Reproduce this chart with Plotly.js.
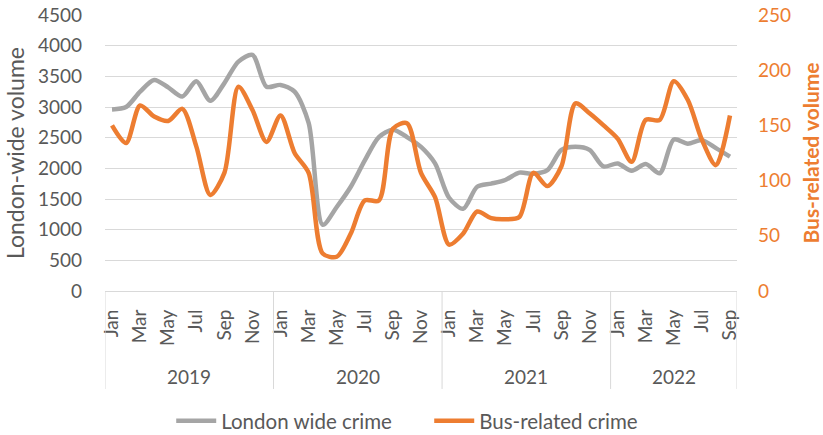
<!DOCTYPE html>
<html>
<head>
<meta charset="utf-8">
<script src="https://cdn.plot.ly/plotly-3.0.1.min.js"></script>
<style>html,body{margin:0;padding:0;background:#fff;}#chart{width:823px;height:435px;}</style>
</head>
<body>
<div id="chart"></div>
<script>
var years = ['2019', '2020', '2021', '2022'];
var monthNames = ['Jan','Feb','Mar','Apr','May','Jun','Jul','Aug','Sep','Oct','Nov','Dec'];
var monthsPerYear = [12, 12, 12, 9];
var londonWide = [
  2960, 3000, 3250, 3440, 3320, 3170, 3420, 3100, 3390, 3740, 3850, 3330,
  3360, 3250, 2740, 1080, 1370, 1700, 2130, 2510, 2630, 2510, 2350, 2080,
  1520, 1340, 1700, 1750, 1810, 1930, 1910, 1970, 2300, 2350, 2300, 2030,
  2080, 1960, 2070, 1920, 2470, 2400, 2460, 2330, 2190
];
var busRelated = [
  150, 134, 168, 158, 154, 165, 131, 87, 107, 185, 164, 135,
  159, 125, 107, 34, 31, 52, 82, 82, 147, 152, 107, 85,
  42, 52, 72, 66, 65, 67, 107, 95, 113, 170, 161, 150,
  138, 117, 155, 155, 190, 173, 137, 114, 159
];

var FONT = 'Lato, "Liberation Sans", sans-serif';
var GREY_TXT = '#595959';
var ORANGE = '#ED7D31';
var GREY_LINE = '#A5A5A5';

var xIdx = [], tickVals = [], tickText = [];
var yearStarts = [];
var k = 0;
for (var yi = 0; yi < years.length; yi++) {
  yearStarts.push(k);
  for (var m = 0; m < monthsPerYear[yi]; m++) {
    xIdx.push(k);
    if (m % 2 === 0) { tickVals.push(k); tickText.push(monthNames[m]); }
    k++;
  }
}
var total = k;

var annotations = [], shapes = [];
var sepBottom = -0.355, yearY = -0.308;
for (var yi = 0; yi < years.length; yi++) {
  var s = yearStarts[yi], e = s + monthsPerYear[yi];
  annotations.push({
    x: (s + e - 1) / 2, y: yearY, xref: 'x', yref: 'paper',
    text: years[yi], showarrow: false, yanchor: 'middle',
    font: {family: FONT, size: 19, color: GREY_TXT}
  });
  shapes.push({type: 'line', xref: 'x', yref: 'paper', x0: s - 0.5, x1: s - 0.5, y0: 0, y1: sepBottom,
    line: {color: '#d9d9d9', width: 1}});
}
shapes.push({type: 'line', xref: 'x', yref: 'paper', x0: total - 0.5, x1: total - 0.5, y0: 0, y1: sepBottom,
  line: {color: '#d9d9d9', width: 1}});

var traces = [
  {x: xIdx, y: londonWide, name: 'London wide crime', type: 'scatter', mode: 'lines',
   line: {color: GREY_LINE, width: 4.5, shape: 'spline', smoothing: 0.8}, yaxis: 'y'},
  {x: xIdx, y: busRelated, name: 'Bus-related crime', type: 'scatter', mode: 'lines',
   line: {color: ORANGE, width: 4.5, shape: 'spline', smoothing: 0.8}, yaxis: 'y2'}
];

var layout = {
  width: 823, height: 435,
  margin: {l: 105, r: 86, t: 15, b: 144},
  paper_bgcolor: '#fff', plot_bgcolor: '#fff',
  font: {family: FONT, color: GREY_TXT},
  showlegend: true,
  legend: {orientation: 'h', x: 0.513, xanchor: 'center', yref: 'container', y: 14 / 435, yanchor: 'middle',
    font: {family: FONT, size: 20.5, color: GREY_TXT}, itemwidth: 40, entrywidth: 203, entrywidthmode: 'pixels'},
  xaxis: {
    range: [-0.5, total - 0.5], tickmode: 'array', tickvals: tickVals, ticktext: tickText,
    tickangle: -90, tickfont: {family: FONT, size: 19, color: GREY_TXT},
    showgrid: false, zeroline: false, showline: true, linecolor: '#d9d9d9', linewidth: 1,
    ticks: '', ticklabelstandoff: 10, automargin: false, fixedrange: true
  },
  yaxis: {
    range: [0, 4500], dtick: 500, tickfont: {family: FONT, size: 19, color: GREY_TXT},
    gridcolor: '#d9d9d9', gridwidth: 1, zeroline: false, showline: false, ticks: '',
    ticklabelstandoff: 22, automargin: false,
    title: {text: 'London-wide volume', font: {family: FONT, size: 23, color: GREY_TXT}, standoff: 6}
  },
  yaxis2: {
    range: [0, 250], dtick: 50, overlaying: 'y', side: 'right',
    tickfont: {family: FONT, size: 19, color: ORANGE},
    showgrid: false, zeroline: false, showline: false, ticks: '',
    ticklabelstandoff: 20, automargin: false,
    title: {text: '<b>Bus-related volume</b>', font: {family: FONT, size: 21, color: ORANGE}, standoff: 14}
  },
  annotations: annotations,
  shapes: shapes
};

Plotly.newPlot('chart', traces, layout, {displayModeBar: false, staticPlot: true});
</script>
</body>
</html>
